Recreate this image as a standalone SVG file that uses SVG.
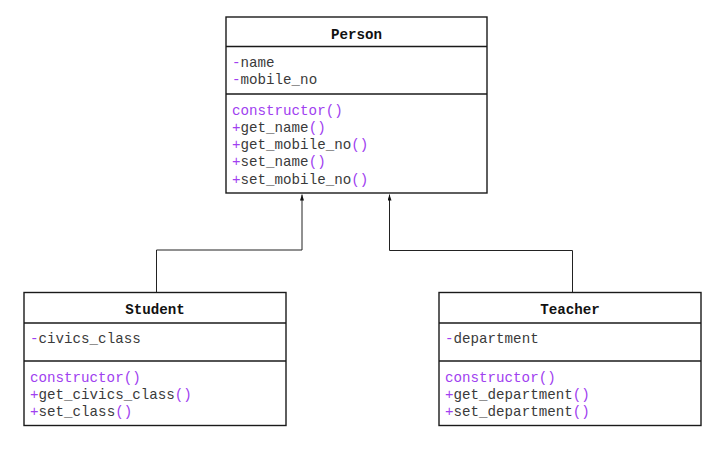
<svg xmlns="http://www.w3.org/2000/svg" width="728" height="460" viewBox="0 0 728 460">
<defs>
<style>
.box{fill:#ffffff;stroke:#1a1a1a;stroke-width:1.4}
.div{stroke:#1a1a1a;stroke-width:1.4}
.t{font-family:"Liberation Mono","Courier New",monospace;font-size:14.2px;fill:#3a3a3a}
.h{font-family:"Liberation Mono","Courier New",monospace;font-size:14.2px;font-weight:bold;fill:#111111;text-anchor:middle}
.p{fill:#a040f0}
.conn{fill:none;stroke:#222222;stroke-width:1}
</style>
<marker id="arr" markerWidth="6" markerHeight="4" refX="6" refY="2" orient="auto" markerUnits="userSpaceOnUse" viewBox="0 0 6 4">
<path d="M0,0 L6,2 L0,4 Z" fill="#111111"/>
</marker>
</defs>
<rect width="728" height="460" fill="#ffffff"/>
<g id="connectors">
<path class="conn" d="M156.5,292.5 V250 H302 V194.5" marker-end="url(#arr)"/>
<path class="conn" d="M572.5,292.5 V250.5 H389.5 V194.5" marker-end="url(#arr)"/>
</g>
<g id="Person">
<rect class="box" x="226" y="17" width="261" height="176"/>
<line class="div" x1="226" y1="46.5" x2="487" y2="46.5"/>
<line class="div" x1="226" y1="94" x2="487" y2="94"/>
<text class="h" x="356.5" y="38.5">Person</text>
<text class="t" x="232" y="67"><tspan class="p">-</tspan>name</text>
<text class="t" x="232" y="84.3"><tspan class="p">-</tspan>mobile_no</text>
<text class="t" x="232" y="114.5"><tspan class="p">constructor()</tspan></text>
<text class="t" x="232" y="131.8"><tspan class="p">+</tspan>get_name<tspan class="p">()</tspan></text>
<text class="t" x="232" y="149.1"><tspan class="p">+</tspan>get_mobile_no<tspan class="p">()</tspan></text>
<text class="t" x="232" y="166.4"><tspan class="p">+</tspan>set_name<tspan class="p">()</tspan></text>
<text class="t" x="232" y="183.7"><tspan class="p">+</tspan>set_mobile_no<tspan class="p">()</tspan></text>
</g>
<g id="Student">
<rect class="box" x="24" y="292.5" width="262" height="133"/>
<line class="div" x1="24" y1="323" x2="286" y2="323"/>
<line class="div" x1="24" y1="361" x2="286" y2="361"/>
<text class="h" x="155" y="314">Student</text>
<text class="t" x="30" y="343.3"><tspan class="p">-</tspan>civics_class</text>
<text class="t" x="30" y="381.7"><tspan class="p">constructor()</tspan></text>
<text class="t" x="30" y="399"><tspan class="p">+</tspan>get_civics_class<tspan class="p">()</tspan></text>
<text class="t" x="30" y="416.3"><tspan class="p">+</tspan>set_class<tspan class="p">()</tspan></text>
</g>
<g id="Teacher">
<rect class="box" x="439" y="292.5" width="262" height="133"/>
<line class="div" x1="439" y1="323" x2="701" y2="323"/>
<line class="div" x1="439" y1="361" x2="701" y2="361"/>
<text class="h" x="570" y="314">Teacher</text>
<text class="t" x="445" y="343.3"><tspan class="p">-</tspan>department</text>
<text class="t" x="445" y="381.7"><tspan class="p">constructor()</tspan></text>
<text class="t" x="445" y="399"><tspan class="p">+</tspan>get_department<tspan class="p">()</tspan></text>
<text class="t" x="445" y="416.3"><tspan class="p">+</tspan>set_department<tspan class="p">()</tspan></text>
</g>
</svg>
